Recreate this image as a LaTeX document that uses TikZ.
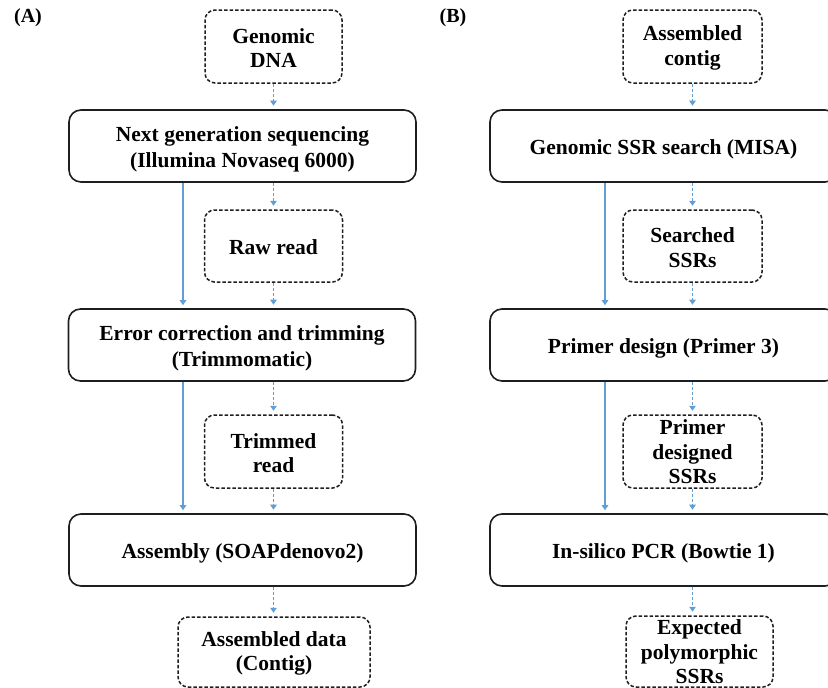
\documentclass[tikz,border=0pt]{standalone}
\usepackage{fontspec}
\setmainfont{Liberation Serif}
\usetikzlibrary{arrows.meta,calc}
\definecolor{arrblue}{RGB}{98,158,214}
\definecolor{boxline}{RGB}{30,30,30}
\begin{document}
\begin{tikzpicture}[x=1pt,y=-1pt,
  every node/.style={font=\bfseries\fontsize{21.5}{26.5}\selectfont, align=center, inner sep=0pt},
  mainbox/.style={draw=boxline, line width=1.6pt, rounded corners=12pt, minimum width=347pt, minimum height=72pt},
  databox/.style={draw=boxline, line width=1.5pt, rounded corners=10pt, dash pattern=on 3.5pt off 2pt},
  mtxt/.style={yshift=-3.5pt},
  dtxt/.style={yshift=-1.5pt, font=\bfseries\fontsize{21.5}{24.5}\selectfont},
  solidarr/.style={draw=arrblue, line width=1.6pt, -{Triangle[length=5pt,width=6.5pt]}, shorten >=3pt},
  dasharr/.style={draw=arrblue, line width=1.4pt, dash pattern=on 3pt off 2pt, -{Triangle[length=5pt,width=6.5pt]}, shorten >=3.5pt},
  lab/.style={font=\bfseries\fontsize{20}{22}\selectfont}]
\useasboundingbox (0,0) rectangle (828,688);
% Panel A
\node[lab] (labA) at (28,18) {(A)};
\node[databox, minimum width=137pt, minimum height=73pt] (gdna) at (273.5,46.5) {};
\node[dtxt] (gdnat) at (gdna.center) {Genomic\\DNA};
\node[mainbox] (ngs) at (242.5,146) {};
\node[mtxt] (ngst) at (ngs.center) {Next generation sequencing\\(Illumina Novaseq 6000)};
\node[databox, minimum width=138pt, minimum height=72pt] (raw) at (273.5,246) {};
\node[dtxt] (rawt) at (raw.center) {Raw read};
\node[mainbox] (err) at (242,345) {};
\node[mtxt] (errt) at (err.center) {Error correction and trimming\\(Trimmomatic)};
\node[databox, minimum width=138pt, minimum height=73pt] (trim) at (273.5,451.5) {};
\node[dtxt] (trimt) at (trim.center) {Trimmed\\read};
\node[mainbox] (asm) at (242.5,550) {};
\node[mtxt] (asmt) at (asm.center) {Assembly (SOAPdenovo2)};
\node[databox, minimum width=192pt, minimum height=70pt] (asmd) at (274,652) {};
\node[dtxt] (asmdt) at (asmd.center) {Assembled data\\(Contig)};
\coordinate (xa) at (183,0);
\draw[solidarr] (ngs.south -| xa) -- (err.north -| xa);
\draw[solidarr] (err.south -| xa) -- (asm.north -| xa);
\draw[dasharr] (gdna.south) -- (gdna.south |- ngs.north);
\draw[dasharr] (raw.north |- ngs.south) -- (raw.north);
\draw[dasharr] (raw.south) -- (raw.south |- err.north);
\draw[dasharr] (trim.north |- err.south) -- (trim.north);
\draw[dasharr] (trim.south) -- (trim.south |- asm.north);
\draw[dasharr] (trim.south |- asm.south) -- (trim.south |- asmd.north);
% Panel B
\node[lab] (labB) at (453,18) {(B)};
\node[databox, minimum width=139pt, minimum height=73pt] (ctg) at (692.5,46.5) {};
\node[dtxt] (ctgt) at (ctg.center) {Assembled\\contig};
\node[mainbox] (misa) at (663.5,146) {};
\node[mtxt] (misat) at (misa.center) {Genomic SSR search (MISA)};
\node[databox, minimum width=139pt, minimum height=72pt] (srch) at (692.5,246) {};
\node[dtxt] (srcht) at (srch.center) {Searched\\SSRs};
\node[mainbox] (prim) at (663.5,345) {};
\node[mtxt] (primt) at (prim.center) {Primer design (Primer 3)};
\node[databox, minimum width=139pt, minimum height=73pt] (pdes) at (692.5,451.5) {};
\node[dtxt, yshift=1pt] (pdest) at (pdes.center) {Primer\\designed\\SSRs};
\node[mainbox] (pcr) at (663.5,550) {};
\node[mtxt] (pcrt) at (pcr.center) {In-silico PCR (Bowtie 1)};
\node[databox, minimum width=147pt, minimum height=71pt] (exp) at (699.5,651.5) {};
\node[dtxt, yshift=1pt] (expt) at (exp.center) {Expected\\polymorphic\\SSRs};
\coordinate (xb) at (605,0);
\draw[solidarr] (misa.south -| xb) -- (prim.north -| xb);
\draw[solidarr] (prim.south -| xb) -- (pcr.north -| xb);
\draw[dasharr] (ctg.south) -- (ctg.south |- misa.north);
\draw[dasharr] (srch.north |- misa.south) -- (srch.north);
\draw[dasharr] (srch.south) -- (srch.south |- prim.north);
\draw[dasharr] (pdes.north |- prim.south) -- (pdes.north);
\draw[dasharr] (pdes.south) -- (pdes.south |- pcr.north);
\draw[dasharr] (pdes.south |- pcr.south) -- (pdes.south |- exp.north);
\end{tikzpicture}
\end{document}
